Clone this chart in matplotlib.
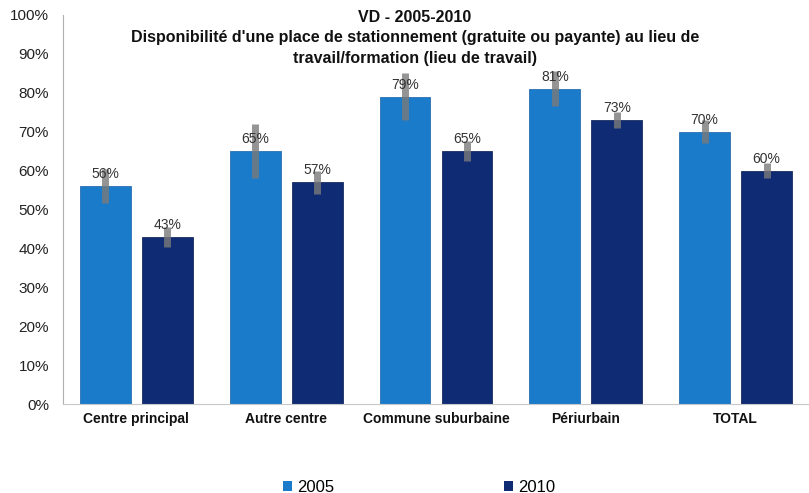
import numpy as np
import matplotlib
matplotlib.use('Agg')
import matplotlib.pyplot as plt
from matplotlib.patches import Patch

# data
categories = ['Centre principal', 'Autre centre', 'Commune suburbaine', 'Périurbain', 'TOTAL']
val_2005 = [56, 65, 79, 81, 70]
val_2010 = [43, 57, 65, 73, 60]
err_2005 = [4.3, 7, 6, 4.5, 3]
err_2010 = [2.6, 3, 2.5, 2, 2]
labels_2005 = ['56%', '65%', '79%', '81%', '70%']
labels_2010 = ['43%', '57%', '65%', '73%', '60%']

c2005 = '#1b7bcb'
c2010 = '#0f2b74'

plt.rcParams['font.family'] = ['Liberation Sans', 'DejaVu Sans']

fig = plt.figure(figsize=(8.09, 4.93), dpi=100)
ax = fig.add_axes([63/809, 89/493, 1 - 63/809, 389/493])

x = np.arange(len(categories))
w = 0.34
off = 0.207
ax.bar(x - off, val_2005, w, color=c2005, edgecolor='#2a6fb0', linewidth=0.6, zorder=2)
ax.bar(x + off, val_2010, w, color=c2010, edgecolor='#1a2c60', linewidth=0.6, zorder=2)
ax.errorbar(x - off, val_2005, yerr=err_2005, fmt='none', ecolor='#7a7a7a',
            elinewidth=5, alpha=0.8, capsize=0, zorder=3)
ax.errorbar(x + off, val_2010, yerr=err_2010, fmt='none', ecolor='#7a7a7a',
            elinewidth=5, alpha=0.8, capsize=0, zorder=3)

for xi, v, t in zip(x - off, val_2005, labels_2005):
    ax.text(xi, v + 1.3, t, ha='center', va='bottom', fontsize=10, color='#333333', zorder=4)
for xi, v, t in zip(x + off, val_2010, labels_2010):
    ax.text(xi, v + 1.3, t, ha='center', va='bottom', fontsize=10, color='#333333', zorder=4)

ax.set_xlim(-0.49, 4.49)
ax.set_ylim(0, 100)
ax.set_yticks(np.arange(0, 101, 10))
ax.set_yticklabels([f'{v}%' for v in range(0, 101, 10)], fontsize=11, color='#222222')
ax.set_xticks(x)
ax.set_xticklabels(categories, fontsize=10, fontweight='bold', color='#111111')
for lbl in ax.get_xticklabels():
    lbl.set_va('baseline')
ax.tick_params(axis='y', length=0, pad=10)
ax.tick_params(axis='x', length=0, pad=14)

for s in ['top', 'right']:
    ax.spines[s].set_visible(False)
ax.spines['left'].set_color('#b0b0b0')
ax.spines['bottom'].set_color('#c8c8c8')

fig.text(415/809, 1 - 10/493,
         "VD - 2005-2010\nDisponibilité d'une place de stationnement (gratuite ou payante) au lieu de\ntravail/formation (lieu de travail)",
         ha='center', va='top', fontsize=11.5, fontweight='bold', color='#111111', linespacing=1.45)

handles = [Patch(facecolor=c2005, label='2005'), Patch(facecolor=c2010, label='2010')]
fig.legend(handles=handles, loc='center', bbox_to_anchor=(419/809, 6/493), ncol=2,
           frameon=False, fontsize=12, handlelength=0.55, handleheight=0.55,
           handletextpad=0.3, columnspacing=10.2, borderpad=0)

fig.savefig('out.png', dpi=100)
